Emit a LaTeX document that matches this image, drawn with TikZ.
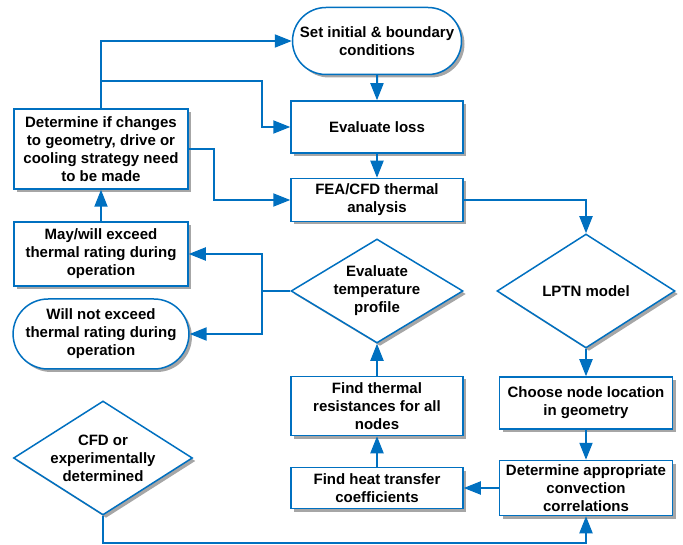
\documentclass[tikz,border=0pt]{standalone}
\usepackage{fontspec}
\setmainfont{Liberation Sans}
\usepackage{tikz}
\usetikzlibrary{arrows.meta,shapes.geometric,shapes.misc}
\definecolor{flowblue}{RGB}{0,112,192}

\begin{document}
\begin{tikzpicture}[%
  x=1pt, y=-1pt,
  every node/.style={font=\bfseries\fontsize{15}{18}\selectfont, align=center, inner sep=2pt},
  boxshadow/.style={preaction={fill=black!35, transform canvas={xshift=3pt, yshift=-3pt}}},
  procbox/.style={rectangle, draw=flowblue, line width=1.5pt, fill=white, boxshadow, minimum width=172pt},
  termbox/.style={rounded rectangle, draw=flowblue, line width=1.5pt, fill=white, boxshadow, minimum width=173pt},
  decbox/.style={diamond, draw=flowblue, line width=1.5pt, fill=white, boxshadow, inner sep=0pt},
  flow/.style={draw=flowblue, line width=2pt, -{Triangle[length=17pt,width=13pt]}}
  ]
  \useasboundingbox (0,0) rectangle (683,545);

  % right hand column
  \node[termbox, minimum height=67pt] (setcond) at (377,41) {Set initial \& boundary\\conditions};
  \node[procbox, minimum height=52pt] (evalloss) at (377,127) {Evaluate loss};
  \node[procbox, minimum height=43pt] (feacfd) at (377,200) {FEA/CFD thermal\\analysis};
  \node[decbox, minimum width=178pt, minimum height=114pt] (lptn) at (586,291) {};
  \node at (lptn) {LPTN model};
  \node[procbox, minimum width=173pt, minimum height=52pt] (choosenode) at (586,403) {Choose node location\\in geometry};
  \node[procbox, minimum width=173pt, minimum height=55pt] (convcorr) at (586,488) {Determine appropriate\\convection\\correlations};
  \node[procbox, minimum height=41pt] (heatcoef) at (377,488) {Find heat transfer\\coefficients};
  \node[procbox, minimum height=59pt] (thermres) at (377,406) {Find thermal\\resistances for all\\nodes};
  \node[decbox, minimum width=172pt, minimum height=104pt] (evaltemp) at (377,291) {};
  \node at (evaltemp) {Evaluate\\temperature\\profile};

  % left hand column
  \node[procbox, minimum width=174pt, minimum height=80pt] (determine) at (101,149) {Determine if changes\\to geometry, drive or\\cooling strategy need\\to be made};
  \node[procbox, minimum width=174pt, minimum height=64pt] (mayexceed) at (101,254) {May/will exceed\\thermal rating during\\operation};
  \node[termbox, minimum height=70pt] (willnot) at (101,334) {Will not exceed\\thermal rating during\\operation};
  \node[decbox, minimum width=179pt, minimum height=114pt] (cfdexp) at (103,458) {};
  \node at (cfdexp) {CFD or\\experimentally\\determined};

  \coordinate (split) at (262,291);
  \coordinate (branch) at (101,81);
  \coordinate (lossturn) at (262,81);
  \coordinate (featurn) at (214,149);
  \coordinate (cfdturn) at (103,543);

  \draw[flow] (setcond) -- (evalloss);
  \draw[flow] (evalloss) -- (feacfd);
  \draw[flow] (feacfd.east) -| (lptn.north);
  \draw[flow] (lptn) -- (choosenode);
  \draw[flow] (choosenode) -- (convcorr);
  \draw[flow] (convcorr) -- (heatcoef);
  \draw[flow] (heatcoef) -- (thermres);
  \draw[flow] (thermres) -- (evaltemp);
  \draw[flow] (evaltemp.west) -- (split) |- (mayexceed);
  \draw[flow] (split) |- (willnot);
  \draw[flow] (mayexceed) -- (determine);
  \draw[flow] (determine) |- (setcond);
  \draw[flow] (branch) -- (lossturn) |- (evalloss);
  \draw[flow] (determine.east) -- (featurn) |- (feacfd);
  \draw[flow] (cfdexp.south) -- (cfdturn) -| (convcorr.south);
\end{tikzpicture}
\end{document}
